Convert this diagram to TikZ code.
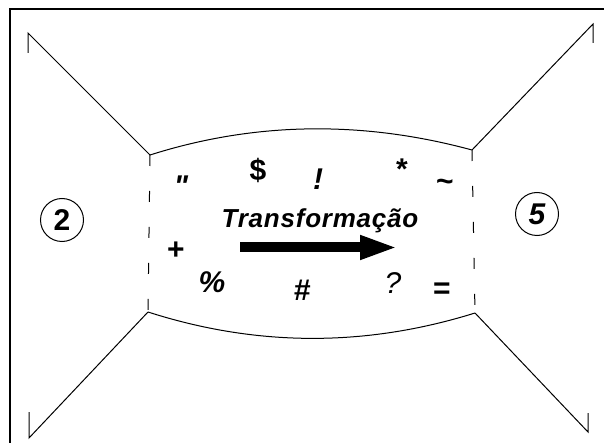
\documentclass[tikz,border=0pt]{standalone}
\usepackage{fontspec}
\setmainfont{Liberation Sans}
\newfontfamily\plainqfont{Liberation Sans}
\usetikzlibrary{arrows.meta}
\begin{document}
\begin{tikzpicture}[x=1pt,y=-1pt,
  thin line/.style={line width=1pt},
  sym/.style={anchor=base,inner sep=0pt,font=\fontsize{30}{32}\selectfont\bfseries},
  symi/.style={anchor=base,inner sep=0pt,font=\fontsize{30}{32}\selectfont\bfseries\itshape},
  circ/.style={draw,circle,line width=1pt,minimum size=43pt,inner sep=0pt,font=\fontsize{30}{32}\selectfont\bfseries}]
\useasboundingbox (0,0) rectangle (604,443);
\fill[white] (0,0) rectangle (604,443);
% frame
\draw[line width=2pt] (10,460) -- (10,9) -- (620,9);
% corners of the central region
\coordinate (tl) at (150,155);
\coordinate (tr) at (472,150);
\coordinate (bl) at (148,312);
\coordinate (br) at (475,313);
% outer tips
\coordinate (ultip) at (28,33);  \coordinate (ultick) at (28,53);
\coordinate (urtip) at (593,24); \coordinate (urtick) at (593,43);
\coordinate (lltip) at (29,438); \coordinate (lltick) at (29,412);
\coordinate (lrtip) at (588,432); \coordinate (lrtick) at (588,413);
\draw[thin line] (ultick) -- (ultip) -- (tl);
\draw[thin line] (urtick) -- (urtip) -- (tr);
\draw[thin line] (lltick) -- (lltip) -- (bl);
\draw[thin line] (lrtick) -- (lrtip) -- (br);
% arcs
\draw[thin line] (tl) .. controls (257,121) and (365,121) .. (tr);
\draw[thin line] (bl) .. controls (257,347) and (366,347) .. (br);
% dashed sides
\draw[thin line, dash pattern=on 11pt off 25pt] (tl) -- (bl);
\draw[thin line, dash pattern=on 11pt off 25pt] (tr) -- (br);
% circles
\node[circ] (two) at (62,220) {2};
\node[circ] (five) at (537,214) {\itshape 5};
% symbols
\node[symi] (quote) at (181,197) {\plainqfont\bfseries\itshape\symbol{34}};
\node[sym] (dollar) at (258,181) {\$};
\node[symi] (excl) at (318,190) {!};
\node[sym] (star) at (402,180) {*};
\node[sym] (tilde) at (445,192) {\char`\~};
\node[sym] (plus) at (176,260) {+};
\node[symi] (pct) at (212,292) {\%};
\node[symi] (hash) at (302,300) {\#};
\node[symi,font=\fontsize{30}{32}\selectfont\itshape] (quest) at (393,293) {?};
\node[sym] (eq) at (442,298) {=};
% title
\node[anchor=base,inner sep=0pt,font=\fontsize{26}{30}\selectfont\bfseries\itshape\addfontfeatures{LetterSpace=3}] (title) at (320,228) {Transformação};
% arrow
\coordinate (as) at (240,247.5);
\coordinate (ae) at (398,247.5);
\draw[line width=10pt,-{Triangle[length=38pt,width=22pt]}] (as) -- (ae);
\end{tikzpicture}
\end{document}
